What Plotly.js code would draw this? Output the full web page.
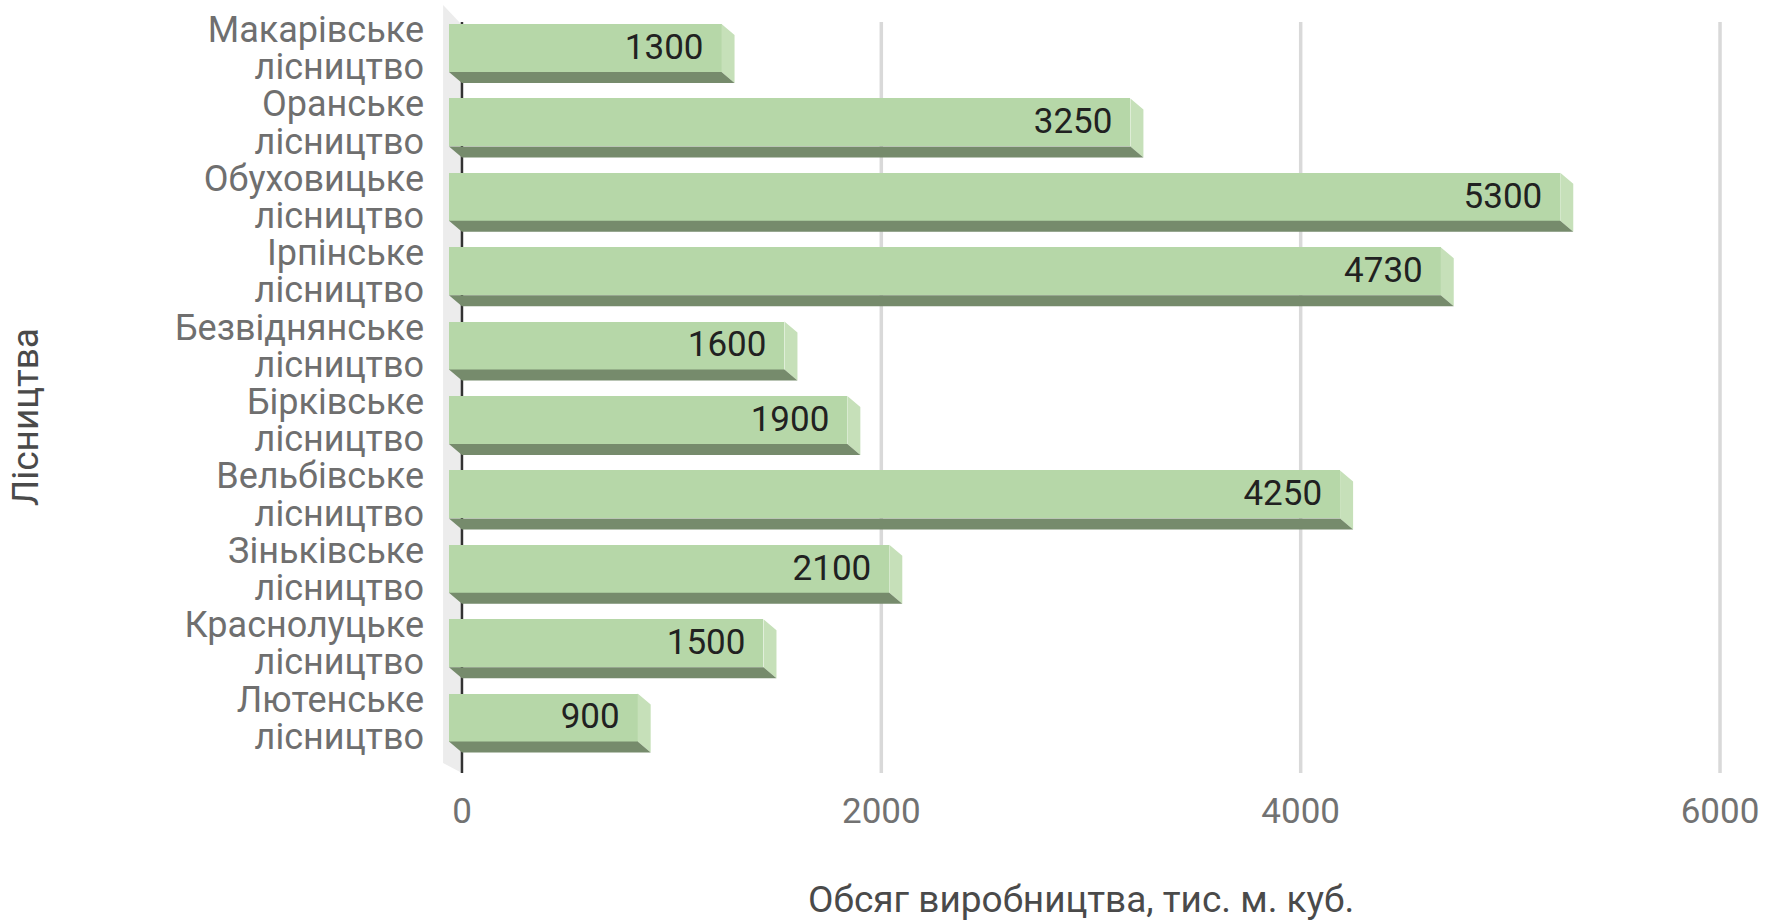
<!DOCTYPE html>
<html>
<head>
<meta charset="utf-8">
<script src="https://cdn.plot.ly/plotly-3.0.1.min.js"></script>
<style>
  html, body { margin: 0; padding: 0; background: #ffffff; }
  #chart { width: 1781px; height: 920px; }
</style>
</head>
<body>
<div id="chart"></div>
<script>
// ---- data ----
const categories = [
  "Макарівське лісництво",
  "Оранське лісництво",
  "Обуховицьке лісництво",
  "Ірпінське лісництво",
  "Безвіднянське лісництво",
  "Бірківське лісництво",
  "Вельбівське лісництво",
  "Зіньківське лісництво",
  "Краснолуцьке лісництво",
  "Лютенське лісництво"
];
const values = [1300, 3250, 5300, 4730, 1600, 1900, 4250, 2100, 1500, 900];
const xTickVals = [0, 2000, 4000, 6000];
const xTickText = ["0", "2000", "4000", "6000"];
const xTitle = "Обсяг виробництва, тис. м. куб.";
const yTitle = "Лісництва";

// ---- style / geometry constants ----
const W = 1781, H = 920;
const mL = 441, mR = 40, mT = 3, mB = 147;
const xRange = [-100, 6100];
const yRange = [9.745, -0.605];
const plotW = W - mL - mR;
const plotH = H - mT - mB;
const pxPerX = plotW / (xRange[1] - xRange[0]);
const pxPerY = plotH / (yRange[0] - yRange[1]);
const dx = 13 / pxPerX;      // 3D depth in x (data units)
const dy = 0.148;            // 3D depth in y (category units)
const bw = 0.645;            // bar thickness
const labelPad = 18 / pxPerX;
const lineOff = 18.6 / pxPerY; // half line pitch of the two-line category labels

const idx = categories.map((c, i) => i);
const firstWords = categories.map(c => c.split(" ")[0]);
const secondWords = categories.map(c => c.split(" ").slice(1).join(" "));

// category tick labels: two lines per category, placed as two ticks
const yTickVals = [], yTickText = [];
idx.forEach(i => {
  yTickVals.push(i - lineOff); yTickText.push(firstWords[i]);
  yTickVals.push(i + lineOff); yTickText.push(secondWords[i]);
});

// front faces
const front = {
  type: "bar", orientation: "h",
  y: idx, x: values, base: -dx, width: bw,
  marker: { color: "#b6d7a8", line: { width: 0 } },
  hoverinfo: "x", showlegend: false
};

// side faces (right) and bottom faces
const sx = [], sy = [], bx = [], by = [];
values.forEach((v, i) => {
  sx.push(v - dx, v, v, v - dx, v - dx, null);
  sy.push(i - bw / 2, i + dy - bw / 2, i + dy + bw / 2, i + bw / 2, i - bw / 2, null);
  bx.push(-dx, v - dx, v, 0, -dx, null);
  by.push(i + bw / 2, i + bw / 2, i + dy + bw / 2, i + dy + bw / 2, i + bw / 2, null);
});
const side = {
  type: "scatter", mode: "lines", x: sx, y: sy, fill: "toself",
  fillcolor: "#c6e0b9", line: { width: 0, color: "#c6e0b9" },
  hoverinfo: "skip", showlegend: false
};
const bottom = {
  type: "scatter", mode: "lines", x: bx, y: by, fill: "toself",
  fillcolor: "#768b6c", line: { width: 0, color: "#768b6c" },
  hoverinfo: "skip", showlegend: false
};
const labels = {
  type: "scatter", mode: "text",
  x: values.map(v => v - dx - labelPad), y: idx.map(i => i + 2 / pxPerY),
  text: values.map(v => String(v)),
  textposition: "middle left",
  textfont: { family: "Roboto", size: 35, color: "#212121" },
  hoverinfo: "skip", showlegend: false
};

// decorative wall, gridlines, zero axis line
const shapes = [];
shapes.push({
  type: "path", xref: "x", yref: "y", layer: "below",
  path: `M ${-90} ${-0.578} L 0 ${-0.309} L 0 ${yRange[0]} L ${-90} ${9.61} Z`,
  fillcolor: "#ececec", line: { width: 0 }
});
xTickVals.filter(v => v > 0).forEach(v => {
  shapes.push({
    type: "line", xref: "x", yref: "y", layer: "below",
    x0: v, x1: v, y0: -0.35, y1: yRange[0],
    line: { color: "#d9d9d9", width: 3.5 }
  });
});
shapes.push({
  type: "line", xref: "x", yref: "y", layer: "below",
  x0: 0, x1: 0, y0: -0.35, y1: yRange[0],
  line: { color: "#333333", width: 2.5 }
});

const layout = {
  width: W, height: H,
  margin: { l: mL, r: mR, t: mT, b: mB, pad: 0 },
  paper_bgcolor: "#ffffff", plot_bgcolor: "rgba(0,0,0,0)",
  font: { family: "Roboto", size: 35, color: "#6f6f6f" },
  showlegend: false,
  bargap: 0,
  xaxis: {
    range: xRange, showgrid: false, zeroline: false, showline: false,
    tickvals: xTickVals, ticktext: xTickText, ticks: "",
    tickfont: { family: "Roboto", size: 35, color: "#727272" },
    ticklabelstandoff: 14, automargin: false, fixedrange: true
  },
  yaxis: {
    range: yRange, showgrid: false, zeroline: false, showline: false,
    tickvals: yTickVals, ticktext: yTickText, ticks: "",
    tickfont: { family: "Roboto", size: 36, color: "#6f6f6f" },
    ticklabelstandoff: 16, automargin: false, fixedrange: true
  },
  shapes: shapes,
  annotations: [
    {
      text: xTitle, xref: "paper", yref: "paper",
      x: (1081 - mL) / plotW, y: (H - mB - 899) / plotH, xanchor: "center", yanchor: "middle",
      showarrow: false, font: { family: "Roboto", size: 37, color: "#4a4a4a" }
    },
    {
      text: yTitle, xref: "paper", yref: "paper", textangle: -90,
      x: (25 - mL) / plotW, y: (H - mB - 417) / plotH,
      xanchor: "center", yanchor: "middle",
      showarrow: false, font: { family: "Roboto", size: 37, color: "#4a4a4a" }
    }
  ]
};

Plotly.newPlot("chart", [side, bottom, front, labels], layout, { displayModeBar: false, staticPlot: true });
</script>
</body>
</html>
